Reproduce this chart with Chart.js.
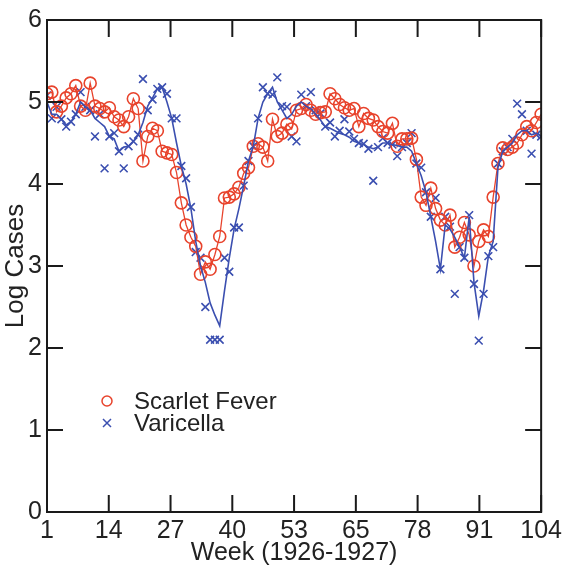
<!DOCTYPE html>
<html>
<head>
<meta charset="utf-8">
<script src="https://cdn.jsdelivr.net/npm/chart.js@4.4.1/dist/chart.umd.min.js"></script>
<style>
  html, body { margin: 0; padding: 0; background: #fff; }
  #wrap { width: 566px; height: 568px; }
</style>
</head>
<body>
<div id="wrap"><canvas id="chart"></canvas></div>
<script>
// weekly log case counts, week 1 .. 104 (1926-1927)
const scarletFever = [
  5.10, 5.12, 4.88, 4.95, 5.05, 5.10, 5.20, 4.95, 4.90, 5.23,
  4.95, 4.92, 4.88, 4.93, 4.82, 4.78, 4.70, 4.82, 5.04, 4.92,
  4.28, 4.58, 4.68, 4.65, 4.40, 4.38, 4.36, 4.14, 3.77, 3.50,
  3.35, 3.24, 2.90, 3.05, 2.96, 3.14, 3.36, 3.83, 3.84, 3.88,
  3.96, 4.13, 4.20, 4.46, 4.49, 4.45, 4.28, 4.79, 4.58, 4.62,
  4.73, 4.67, 4.90, 4.92, 4.97, 4.90, 4.85, 4.87, 4.88, 5.10,
  5.04, 4.97, 4.93, 4.90, 4.92, 4.70, 4.86, 4.80, 4.78, 4.70,
  4.64, 4.62, 4.74, 4.46, 4.55, 4.55, 4.56, 4.30, 3.84, 3.74,
  3.95, 3.70, 3.56, 3.50, 3.62, 3.23, 3.35, 3.53, 3.38, 3.00,
  3.30, 3.44, 3.36, 3.84, 4.25, 4.44, 4.42, 4.45, 4.50, 4.60,
  4.70, 4.65, 4.75, 4.85
];

const varicella = [
  5.08, 4.80, 4.94, 4.79, 4.70, 4.76, 4.85, 5.12, 4.94, 4.90,
  4.58, 4.85, 4.19, 4.58, 4.62, 4.40, 4.19, 4.46, 4.52, 4.60,
  5.28, 4.90, 5.03, 5.16, 5.18, 5.10, 4.80, 4.80, 4.22, 4.07,
  3.72, 3.17, 3.10, 2.50, 2.10, 2.10, 2.10, 3.10, 2.93, 3.47,
  3.47, 3.98, 4.28, 4.46, 4.80, 5.18, 5.10, 5.09, 5.30, 4.95,
  4.94, 4.58, 4.52, 5.09, 4.95, 5.12, 4.90, 4.86, 4.70, 4.75,
  4.58, 4.65, 4.79, 4.64, 4.55, 4.50, 4.49, 4.43, 4.04, 4.45,
  4.56, 4.50, 4.48, 4.34, 4.45, 4.50, 4.62, 4.25, 4.20, 3.90,
  3.60, 3.83, 2.96, 3.60, 3.48, 2.66, 3.23, 3.10, 3.62, 2.78,
  2.09, 2.66, 3.12, 3.23, 4.25, 4.40, 4.45, 4.55, 4.98, 4.85,
  4.65, 4.37, 4.60, 4.58
];

// blue trend line drawn through the varicella weeks
const varicellaTrend = [
  5.00, 4.85, 4.85, 4.79, 4.72, 4.76, 4.85, 5.00, 4.94, 4.90,
  4.80, 4.75, 4.70, 4.58, 4.55, 4.40, 4.45, 4.46, 4.52, 4.60,
  4.75, 4.95, 5.05, 5.16, 5.18, 5.00, 4.80, 4.50, 4.22, 4.00,
  3.70, 3.30, 3.00, 2.80, 2.55, 2.40, 2.27, 2.70, 3.10, 3.45,
  3.70, 3.98, 4.28, 4.46, 4.80, 5.00, 5.10, 5.18, 5.00, 4.90,
  4.80, 4.85, 4.95, 5.00, 4.95, 4.92, 4.85, 4.78, 4.70, 4.68,
  4.65, 4.62, 4.60, 4.57, 4.52, 4.50, 4.48, 4.45, 4.43, 4.45,
  4.50, 4.50, 4.48, 4.47, 4.45, 4.45, 4.40, 4.25, 4.10, 3.90,
  3.60, 3.30, 2.96, 3.50, 3.45, 3.35, 3.23, 3.10, 3.60, 2.80,
  2.39, 2.70, 3.12, 3.30, 4.20, 4.40, 4.45, 4.50, 4.60, 4.65,
  4.65, 4.60, 4.62, 4.58
];

const weekTickLabels = ["1", "14", "27", "40", "53", "65", "78", "91", "104"];
const logTicks = [0, 1, 2, 3, 4, 5, 6];

const RED = "#e8432c";
const BLUE = "#3b4fb0";
const FONT = "'Liberation Sans', Arial, sans-serif";

const toPoints = arr => arr.map((v, i) => ({ x: i + 1, y: v }));

// the figure spaces its week ticks evenly between first and last week
const firstWeek = 1, lastWeek = 104;
const tickStep = (lastWeek - firstWeek) / (weekTickLabels.length - 1);

// box + inward ticks on all four sides, and the legend inside the plot
const framePlugin = {
  id: "frame",
  afterDraw(c) {
    const { ctx, chartArea: a, scales: { x, y } } = c;
    ctx.save();
    ctx.strokeStyle = "#1a1a1a";
    ctx.lineWidth = 2;
    ctx.strokeRect(a.left, a.top, a.right - a.left, a.bottom - a.top);
    ctx.beginPath();
    x.ticks.forEach(t => {
      const px = x.getPixelForValue(t.value);
      ctx.moveTo(px, a.bottom); ctx.lineTo(px, a.bottom - 17);
      ctx.moveTo(px, a.top); ctx.lineTo(px, a.top + 17);
    });
    y.ticks.forEach(t => {
      const py = y.getPixelForValue(t.value);
      ctx.moveTo(a.left, py); ctx.lineTo(a.left + 16, py);
      ctx.moveTo(a.right, py); ctx.lineTo(a.right - 16, py);
    });
    ctx.stroke();

    // legend
    const items = c.data.datasets.filter(d => d.label);
    ctx.font = "24px " + FONT;
    ctx.textBaseline = "middle";
    ctx.fillStyle = "#222";
    items.forEach((d, i) => {
      const mx = 107, my = 401 + i * 22;
      ctx.strokeStyle = d.borderColor;
      ctx.lineWidth = 1.5;
      ctx.beginPath();
      if (d.pointStyle === "circle") {
        ctx.arc(mx, my, 5, 0, Math.PI * 2);
      } else {
        ctx.moveTo(mx - 4, my - 4); ctx.lineTo(mx + 4, my + 4);
        ctx.moveTo(mx - 4, my + 4); ctx.lineTo(mx + 4, my - 4);
      }
      ctx.stroke();
      ctx.fillText(d.label, 134, my + 1);
    });
    ctx.restore();
  }
};

new Chart(document.getElementById("chart"), {
  type: "line",
  data: {
    datasets: [
      {
        label: "",
        data: toPoints(varicellaTrend),
        borderColor: BLUE,
        borderWidth: 1.6,
        pointRadius: 0,
        fill: false
      },
      {
        label: "Scarlet Fever",
        data: toPoints(scarletFever),
        borderColor: RED,
        backgroundColor: "rgba(0,0,0,0)",
        borderWidth: 1.3,
        pointStyle: "circle",
        pointRadius: 6,
        pointBorderWidth: 1.6,
        pointBorderColor: RED,
        pointBackgroundColor: "rgba(0,0,0,0)",
        fill: false
      },
      {
        label: "Varicella",
        data: toPoints(varicella),
        showLine: false,
        borderColor: BLUE,
        pointStyle: "crossRot",
        pointRadius: 5.5,
        pointBorderWidth: 1.6,
        pointBorderColor: BLUE
      }
    ]
  },
  options: {
    responsive: true,
    maintainAspectRatio: false,
    animation: false,
    layout: { padding: { top: 12, right: 21, left: 0, bottom: 0 } },
    plugins: {
      legend: { display: false },
      tooltip: { enabled: false }
    },
    scales: {
      x: {
        type: "linear",
        min: firstWeek,
        max: lastWeek,
        afterBuildTicks: s => {
          s.ticks = weekTickLabels.map((_, i) => ({ value: firstWeek + i * tickStep }));
        },
        afterFit: s => { s.height = 56; },
        grid: { display: false, drawTicks: false },
        border: { display: false },
        ticks: {
          autoSkip: false,
          maxRotation: 0,
          padding: 4,
          color: "#222",
          font: { family: FONT, size: 25 },
          callback: (v, i) => weekTickLabels[i]
        },
        title: {
          display: true,
          text: "Week (1926-1927)",
          color: "#222",
          font: { family: FONT, size: 25 },
          padding: { top: 0, bottom: 0 }
        }
      },
      y: {
        min: 0,
        max: 6,
        afterBuildTicks: s => { s.ticks = logTicks.map(v => ({ value: v })); },
        afterFit: s => { s.width = 47; },
        grid: { display: false, drawTicks: false },
        border: { display: false },
        ticks: {
          padding: 5,
          color: "#222",
          font: { family: FONT, size: 25 }
        },
        title: {
          display: true,
          text: "Log Cases",
          color: "#222",
          font: { family: FONT, size: 26 },
          padding: { top: 0, bottom: 0 }
        }
      }
    }
  },
  plugins: [framePlugin]
});
</script>
</body>
</html>
